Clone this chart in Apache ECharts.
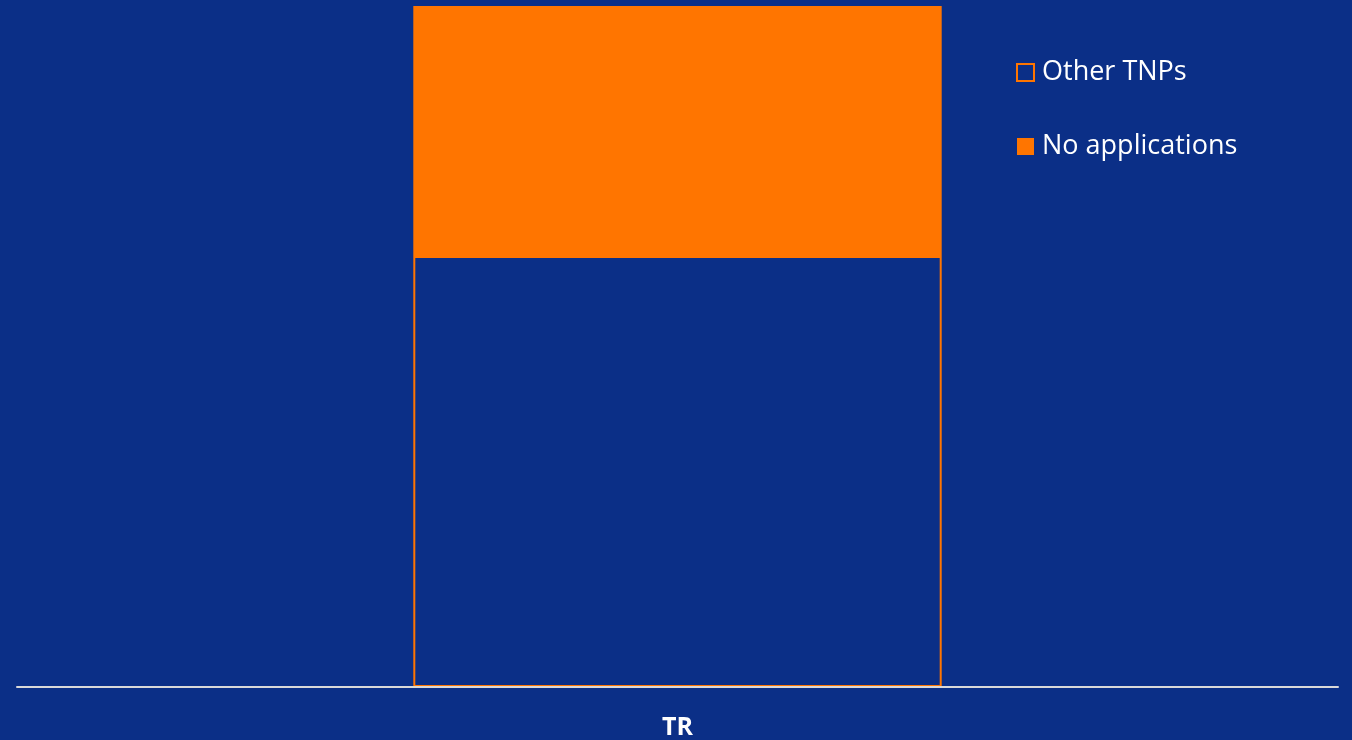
<!DOCTYPE html>
<html>
<head>
<meta charset="utf-8">
<script src="https://cdn.jsdelivr.net/npm/echarts@6/dist/echarts.min.js"></script>
<style>
html,body{margin:0;padding:0;background:#0B2F87;}
#chart{width:1352px;height:740px;}
</style>
</head>
<body>
<div id="chart"></div>
<script>
const categories = ['TR'];
const otherTNPs = [63.3];
const noApplications = [36.7];
const seriesNames = ['Other TNPs', 'No applications'];

const bg = '#0B2F87';
const orange = '#FF7500';

const chart = echarts.init(document.getElementById('chart'));
chart.setOption({
  backgroundColor: bg,
  animation: false,
  grid: {left: 17, right: 14, top: 6, bottom: 53, containLabel: false},
  legend: {
    orient: 'vertical',
    left: 1011,
    top: 54,
    itemWidth: 17,
    itemHeight: 17,
    itemGap: 47,
    textStyle: {color: '#FFFFFF', fontSize: 27, fontFamily: 'Open Sans', padding: [0,0,0,3]},
    data: [
      {name: seriesNames[0], icon: 'rect', itemStyle: {color: bg, borderColor: orange, borderWidth: 2}},
      {name: seriesNames[1], icon: 'rect', itemStyle: {color: orange, borderWidth: 0}}
    ]
  },
  xAxis: {
    type: 'category',
    data: categories,
    z: 5,
    axisLine: {lineStyle: {color: '#D9D9D9', width: 2}},
    axisTick: {show: false},
    axisLabel: {color: '#FFFFFF', fontSize: 25, fontWeight: 'bold', fontFamily: 'Open Sans', margin: 28}
  },
  yAxis: {
    type: 'value',
    min: 0,
    max: 100,
    show: false,
    splitLine: {show: false}
  },
  series: [
    {
      name: seriesNames[0],
      type: 'bar',
      stack: 'total',
      data: otherTNPs,
      barWidth: '40%',
      itemStyle: {color: bg, borderColor: orange, borderWidth: 2}
    },
    {
      name: seriesNames[1],
      type: 'bar',
      stack: 'total',
      data: noApplications,
      barWidth: '40%',
      itemStyle: {color: orange}
    }
  ]
});
</script>
</body>
</html>
